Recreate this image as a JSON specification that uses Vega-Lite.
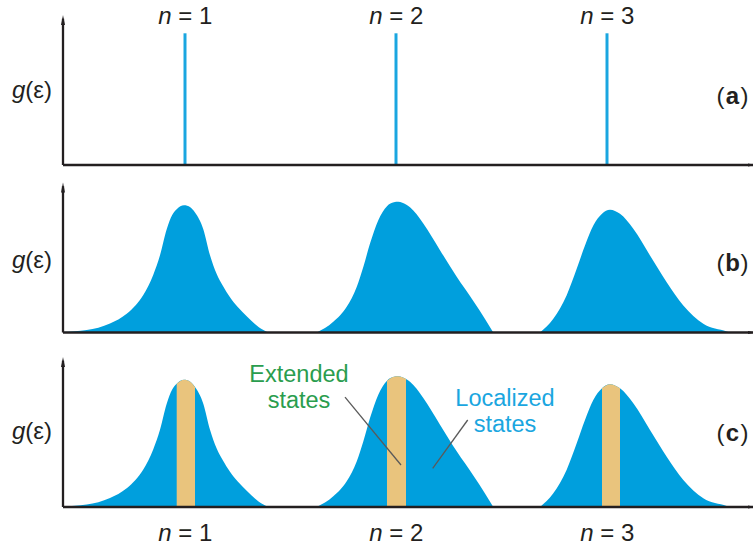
{
  "$schema": "https://vega.github.io/schema/vega-lite/v6.json",
  "padding": 0,
  "background": "white",
  "spacing": 0,
  "bounds": "flush",
  "config": {
    "view": {"stroke": null},
    "text": {"font": "Liberation Sans", "fontSize": 24, "color": "#231F20", "baseline": "alphabetic"}
  },
  "resolve": {"scale": {"x": "independent", "y": "independent"}},
  "datasets": {
    "peaks": [
      {"peak": 1, "x": 0.4218, "y": 0.003},
      {"peak": 1, "x": 0.5341, "y": 0.016},
      {"peak": 1, "x": 0.6445, "y": 0.06},
      {"peak": 1, "x": 0.7237, "y": 0.125},
      {"peak": 1, "x": 0.765, "y": 0.18},
      {"peak": 1, "x": 0.8024, "y": 0.25},
      {"peak": 1, "x": 0.8498, "y": 0.385},
      {"peak": 1, "x": 0.8815, "y": 0.515},
      {"peak": 1, "x": 0.9133, "y": 0.689},
      {"peak": 1, "x": 0.94, "y": 0.785},
      {"peak": 1, "x": 0.9607, "y": 0.822},
      {"peak": 1, "x": 0.9953, "y": 0.848},
      {"peak": 1, "x": 1.025, "y": 0.835},
      {"peak": 1, "x": 1.0474, "y": 0.8},
      {"peak": 1, "x": 1.0867, "y": 0.689},
      {"peak": 1, "x": 1.1185, "y": 0.515},
      {"peak": 1, "x": 1.1502, "y": 0.39},
      {"peak": 1, "x": 1.18, "y": 0.31},
      {"peak": 1, "x": 1.2133, "y": 0.235},
      {"peak": 1, "x": 1.25, "y": 0.17},
      {"peak": 1, "x": 1.2924, "y": 0.108},
      {"peak": 1, "x": 1.35, "y": 0.035},
      {"peak": 1, "x": 1.3934, "y": 0},
      {"peak": 2, "x": 1.6242, "y": 0},
      {"peak": 2, "x": 1.7028, "y": 0.071},
      {"peak": 2, "x": 1.7664, "y": 0.171},
      {"peak": 2, "x": 1.8137, "y": 0.304},
      {"peak": 2, "x": 1.845, "y": 0.437},
      {"peak": 2, "x": 1.8768, "y": 0.593},
      {"peak": 2, "x": 1.9161, "y": 0.749},
      {"peak": 2, "x": 1.9573, "y": 0.842},
      {"peak": 2, "x": 1.99, "y": 0.868},
      {"peak": 2, "x": 2.0109, "y": 0.871},
      {"peak": 2, "x": 2.03, "y": 0.865},
      {"peak": 2, "x": 2.0474, "y": 0.853},
      {"peak": 2, "x": 2.0664, "y": 0.835},
      {"peak": 2, "x": 2.1294, "y": 0.727},
      {"peak": 2, "x": 2.2085, "y": 0.549},
      {"peak": 2, "x": 2.2877, "y": 0.371},
      {"peak": 2, "x": 2.3664, "y": 0.21},
      {"peak": 2, "x": 2.4218, "y": 0.09},
      {"peak": 2, "x": 2.4611, "y": 0},
      {"peak": 3, "x": 2.6825, "y": 0},
      {"peak": 3, "x": 2.7455, "y": 0.091},
      {"peak": 3, "x": 2.809, "y": 0.249},
      {"peak": 3, "x": 2.8564, "y": 0.425},
      {"peak": 3, "x": 2.8957, "y": 0.58},
      {"peak": 3, "x": 2.9351, "y": 0.713},
      {"peak": 3, "x": 2.9763, "y": 0.792},
      {"peak": 3, "x": 3.0142, "y": 0.818},
      {"peak": 3, "x": 3.0616, "y": 0.791},
      {"peak": 3, "x": 3.1246, "y": 0.691},
      {"peak": 3, "x": 3.2038, "y": 0.513},
      {"peak": 3, "x": 3.2829, "y": 0.335},
      {"peak": 3, "x": 3.3616, "y": 0.18},
      {"peak": 3, "x": 3.4564, "y": 0.058},
      {"peak": 3, "x": 3.5673, "y": 0.007},
      {"peak": 3, "x": 3.5829, "y": 0}
    ],
    "axes": [
      {"x": 0.4218, "y": 0, "x2": 0.4218, "y2": 0.975},
      {"x": 0.4218, "y": 0, "x2": 3.69194, "y2": 0}
    ],
    "arrowUp": [{"x": 0.4218, "y": 0.9667}],
    "arrowRight": [{"x": 3.6872, "y": 0}]
  },
  "vconcat": [
    {
      "width": 753,
      "height": 174,
      "encoding": {
        "x": {"field": "x", "type": "quantitative", "scale": {"domain": [0.12322, 3.69194], "nice": false, "zero": false}, "axis": null},
        "y": {"field": "y", "type": "quantitative", "scale": {"domain": [-0.06, 1.1], "nice": false, "zero": false}, "axis": null}
      },
      "layer": [
        {
          "data": {"values": [{"x": 1, "y": 0, "y2": 0.878}, {"x": 2, "y": 0, "y2": 0.878}, {"x": 3, "y": 0, "y2": 0.878}]},
          "mark": {"type": "rule", "color": "#1AA6E0", "strokeWidth": 3},
          "encoding": {"y2": {"field": "y2"}}
        },
        {
          "data": {"name": "axes"},
          "mark": {"type": "rule", "color": "#231F20", "strokeWidth": 2.3},
          "encoding": {"x2": {"field": "x2"}, "y2": {"field": "y2"}}
        },
        {
          "data": {"name": "arrowUp"},
          "mark": {"type": "point", "filled": true, "opacity": 1, "shape": "M0,-1L0.4,1L-0.4,1Z", "size": 100, "color": "#231F20"}
        },
        {
          "data": {"name": "arrowRight"},
          "mark": {"type": "point", "filled": true, "opacity": 1, "clip": true, "shape": "M1,0L-1,-0.4L-1,0.4Z", "size": 64, "color": "#231F20"}
        },
        {
          "data": {"values": [{"x": 1, "y": 0.94, "t": "= 1"}, {"x": 2, "y": 0.94, "t": "= 2"}, {"x": 3, "y": 0.94, "t": "= 3"}]},
          "layer": [
            {"mark": {"type": "text", "text": "n", "fontStyle": "italic", "align": "right", "dx": -13.5}},
            {"mark": {"type": "text", "align": "left", "dx": -6.8}, "encoding": {"text": {"field": "t"}}}
          ]
        },
        {
          "data": {"values": [{"x": 0.2431, "y": 0.447}]},
          "layer": [
            {"mark": {"type": "text", "text": "g", "fontStyle": "italic", "align": "right"}},
            {"mark": {"type": "text", "text": "(ε)", "align": "left"}}
          ]
        },
        {
          "data": {"values": [{"x": 3.5948, "y": 0.405, "L": "a"}]},
          "layer": [
            {"mark": {"type": "text", "fontWeight": "bold", "align": "center"}, "encoding": {"text": {"field": "L"}}},
            {"mark": {"type": "text", "text": "(", "align": "right", "dx": -8}},
            {"mark": {"type": "text", "text": ")", "align": "left", "dx": 8}}
          ]
        }
      ]
    },
    {
      "width": 753,
      "height": 174,
      "encoding": {
        "x": {"field": "x", "type": "quantitative", "scale": {"domain": [0.12322, 3.69194], "nice": false, "zero": false}, "axis": null},
        "y": {"field": "y", "type": "quantitative", "scale": {"domain": [-0.1033, 1.0567], "nice": false, "zero": false}, "axis": null}
      },
      "layer": [
        {
          "data": {"name": "peaks"},
          "mark": {"type": "area", "interpolate": "monotone", "color": "#009FDD", "opacity": 1},
          "encoding": {"y2": {"datum": 0}, "detail": {"field": "peak"}}
        },
        {
          "data": {"name": "axes"},
          "mark": {"type": "rule", "color": "#231F20", "strokeWidth": 2.3},
          "encoding": {"x2": {"field": "x2"}, "y2": {"field": "y2"}}
        },
        {
          "data": {"name": "arrowUp"},
          "mark": {"type": "point", "filled": true, "opacity": 1, "shape": "M0,-1L0.4,1L-0.4,1Z", "size": 100, "color": "#231F20"}
        },
        {
          "data": {"name": "arrowRight"},
          "mark": {"type": "point", "filled": true, "opacity": 1, "clip": true, "shape": "M1,0L-1,-0.4L-1,0.4Z", "size": 64, "color": "#231F20"}
        },
        {
          "data": {"values": [{"x": 0.2431, "y": 0.427}]},
          "layer": [
            {"mark": {"type": "text", "text": "g", "fontStyle": "italic", "align": "right"}},
            {"mark": {"type": "text", "text": "(ε)", "align": "left"}}
          ]
        },
        {
          "data": {"values": [{"x": 3.5948, "y": 0.407, "L": "b"}]},
          "layer": [
            {"mark": {"type": "text", "fontWeight": "bold", "align": "center"}, "encoding": {"text": {"field": "L"}}},
            {"mark": {"type": "text", "text": "(", "align": "right", "dx": -8}},
            {"mark": {"type": "text", "text": ")", "align": "left", "dx": 8}}
          ]
        }
      ]
    },
    {
      "width": 753,
      "height": 200,
      "encoding": {
        "x": {"field": "x", "type": "quantitative", "scale": {"domain": [0.12322, 3.69194], "nice": false, "zero": false}, "axis": null},
        "y": {"field": "y", "type": "quantitative", "scale": {"domain": [-0.2733, 1.06], "nice": false, "zero": false}, "axis": null}
      },
      "layer": [
        {
          "data": {"name": "peaks"},
          "mark": {"type": "area", "interpolate": "monotone", "color": "#009FDD", "opacity": 1},
          "encoding": {"y2": {"datum": 0}, "detail": {"field": "peak"}}
        },
        {
          "data": {"name": "peaks"},
          "transform": [
            {"filter": "(datum.peak == 1 && datum.x >= 0.9607 && datum.x <= 1.0474) || (datum.peak == 2 && datum.x >= 1.9573 && datum.x <= 2.0474) || (datum.peak == 3 && datum.x >= 2.9763 && datum.x <= 3.0616)"}
          ],
          "mark": {"type": "area", "interpolate": "monotone", "color": "#E9C47D", "opacity": 1},
          "encoding": {"y2": {"datum": 0}, "detail": {"field": "peak"}}
        },
        {
          "data": {"name": "axes"},
          "mark": {"type": "rule", "color": "#231F20", "strokeWidth": 2.3},
          "encoding": {"x2": {"field": "x2"}, "y2": {"field": "y2"}}
        },
        {
          "data": {"name": "arrowUp"},
          "mark": {"type": "point", "filled": true, "opacity": 1, "shape": "M0,-1L0.4,1L-0.4,1Z", "size": 100, "color": "#231F20"}
        },
        {
          "data": {"name": "arrowRight"},
          "mark": {"type": "point", "filled": true, "opacity": 1, "clip": true, "shape": "M1,0L-1,-0.4L-1,0.4Z", "size": 64, "color": "#231F20"}
        },
        {
          "data": {"values": [
            {"x": 1.7583, "y": 0.733, "x2": 2.0237, "y2": 0.28},
            {"x": 2.3398, "y": 0.58, "x2": 2.1739, "y2": 0.258}
          ]},
          "mark": {"type": "rule", "color": "#5A5A5A", "strokeWidth": 1.3},
          "encoding": {"x2": {"field": "x2"}, "y2": {"field": "y2"}}
        },
        {
          "data": {"values": [{"x": 1.5403, "y": 0.835, "t": "Extended"}, {"x": 1.5403, "y": 0.662, "t": "states"}]},
          "mark": {"type": "text", "align": "center", "fontSize": 23.5, "color": "#2A9D4E"},
          "encoding": {"text": {"field": "t"}}
        },
        {
          "data": {"values": [{"x": 2.5166, "y": 0.673, "t": "Localized"}, {"x": 2.5166, "y": 0.502, "t": "states"}]},
          "mark": {"type": "text", "align": "center", "fontSize": 23.5, "color": "#1AA6E0"},
          "encoding": {"text": {"field": "t"}}
        },
        {
          "data": {"values": [{"x": 1, "y": -0.2267, "t": "= 1"}, {"x": 2, "y": -0.2267, "t": "= 2"}, {"x": 3, "y": -0.2267, "t": "= 3"}]},
          "layer": [
            {"mark": {"type": "text", "text": "n", "fontStyle": "italic", "align": "right", "dx": -13.5}},
            {"mark": {"type": "text", "align": "left", "dx": -6.8}, "encoding": {"text": {"field": "t"}}}
          ]
        },
        {
          "data": {"values": [{"x": 0.2431, "y": 0.451}]},
          "layer": [
            {"mark": {"type": "text", "text": "g", "fontStyle": "italic", "align": "right"}},
            {"mark": {"type": "text", "text": "(ε)", "align": "left"}}
          ]
        },
        {
          "data": {"values": [{"x": 3.5948, "y": 0.442, "L": "c"}]},
          "layer": [
            {"mark": {"type": "text", "fontWeight": "bold", "align": "center"}, "encoding": {"text": {"field": "L"}}},
            {"mark": {"type": "text", "text": "(", "align": "right", "dx": -8}},
            {"mark": {"type": "text", "text": ")", "align": "left", "dx": 8}}
          ]
        }
      ]
    }
  ]
}
